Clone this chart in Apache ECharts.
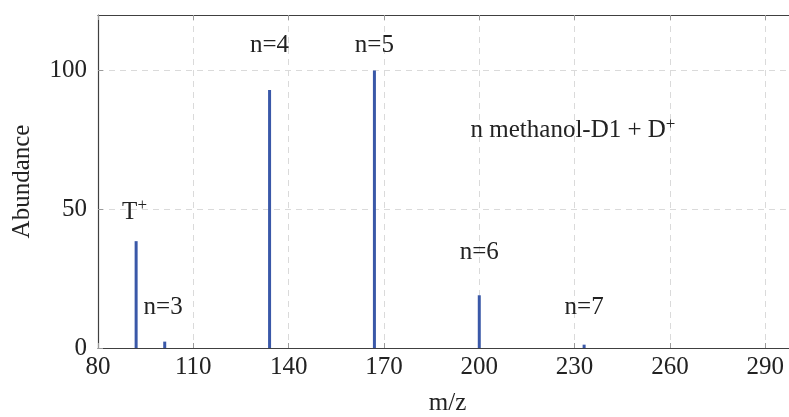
<!DOCTYPE html>
<html>
<head>
<meta charset="utf-8">
<script src="https://cdn.jsdelivr.net/npm/echarts@6/dist/echarts.min.js"></script>
<style>
  html, body { margin: 0; padding: 0; background: #fff; overflow: hidden; }
  #chart { width: 789px; height: 417px; }
</style>
</head>
<body>
<div id="chart"></div>
<script>
// Mass spectrum of methanol-D1 clusters
const massToCharge = [92, 101, 134, 167, 200, 233];
const abundance = [38.5, 2.3, 93, 100, 19, 1.2];

// Peak annotations
const annotationText = ['{t|T}{s|+}', 'n=3', 'n=4', 'n=5', 'n=6', 'n=7', 'n methanol-D1 + {t|D}{s|+}'];
const annotationX = [91.5, 100.5, 134, 167, 200, 233, 229.5];
const annotationY = [49, 14.5, 109, 109, 34.5, 14.5, 78.5];

const xTicks = { min: 80, max: 300, interval: 30 };
const yTicks = { min: 0, max: 120, interval: 50 };

const FONT = '"Liberation Serif", "DejaVu Serif", serif';
const TEXT = '#222222';
const AXIS = '#404040';
const BAR = '#3a58a8';

const chart = echarts.init(document.getElementById('chart'), null, { renderer: 'canvas' });

const gridLine = { show: true, showMaxLine: false, lineStyle: { color: '#dadada', type: [6, 5], width: 1 } };
const tick = { show: true, inside: true, length: 5, lineStyle: { color: '#9a9a9a' } };

chart.setOption({
  animation: false,
  backgroundColor: '#fff',
  textStyle: { fontFamily: FONT },
  // plot box runs slightly past the right edge of the canvas
  grid: { left: 98, top: 15, width: 699, height: 333, containLabel: false, outerBoundsMode: 'none' },
  xAxis: [
    {
      type: 'value', position: 'bottom',
      min: xTicks.min, max: xTicks.max, interval: xTicks.interval,
      name: 'm/z', nameLocation: 'middle', nameGap: 43,
      nameTextStyle: { fontFamily: FONT, fontSize: 25, color: TEXT },
      axisLine: { show: true, onZero: false, lineStyle: { color: AXIS, width: 1.2 } },
      axisTick: tick,
      axisLabel: { fontFamily: FONT, fontSize: 25, color: TEXT, margin: 7, showMaxLabel: false },
      splitLine: gridLine
    },
    {
      type: 'value', position: 'top',
      min: xTicks.min, max: xTicks.max, interval: xTicks.interval,
      axisLine: { show: true, onZero: false, lineStyle: { color: AXIS, width: 1.2 } },
      axisTick: tick,
      axisLabel: { show: false },
      splitLine: { show: false }
    }
  ],
  yAxis: [
    {
      type: 'value',
      min: yTicks.min, max: yTicks.max, interval: yTicks.interval,
      name: 'Abundance', nameLocation: 'middle', nameGap: 63, nameRotate: 90,
      nameTextStyle: { fontFamily: FONT, fontSize: 25, color: TEXT },
      axisLine: { show: true, onZero: false, lineStyle: { color: AXIS, width: 1.2 } },
      axisTick: tick,
      axisLabel: { fontFamily: FONT, fontSize: 25, color: TEXT, margin: 11, showMaxLabel: false },
      splitLine: gridLine
    }
  ],
  series: [
    {
      type: 'bar',
      xAxisIndex: 0, yAxisIndex: 0,
      barWidth: 3,
      itemStyle: { color: BAR },
      data: massToCharge.map((m, i) => [m, abundance[i]]),
      silent: true
    },
    {
      type: 'scatter',
      xAxisIndex: 0, yAxisIndex: 0,
      symbolSize: 0,
      silent: true,
      itemStyle: { opacity: 1 },
      data: annotationText.map((t, i) => [annotationX[i], annotationY[i], t]),
      label: {
        show: true,
        position: [0, 0],
        align: 'center',
        verticalAlign: 'middle',
        formatter: p => p.data[2],
        fontFamily: FONT,
        fontSize: 25,
        color: TEXT,
        textBorderWidth: 0,
        rich: {
          t: { fontFamily: FONT, fontSize: 25, color: TEXT, textBorderWidth: 0 },
          s: { fontFamily: FONT, fontSize: 17, color: TEXT, textBorderWidth: 0, verticalAlign: 'top', padding: [0, 0, 12, 0] }
        }
      }
    }
  ]
});
</script>
</body>
</html>
